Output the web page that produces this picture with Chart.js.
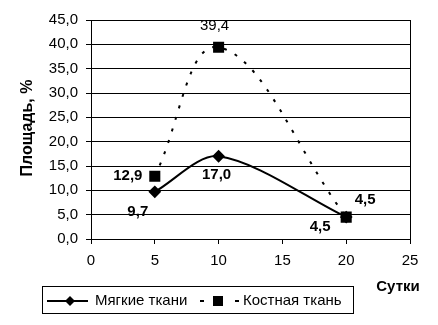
<!DOCTYPE html>
<html>
<head>
<meta charset="utf-8">
<script src="https://cdn.jsdelivr.net/npm/chart.js@4"></script>
<style>
    html, body { margin: 0; padding: 0; background: #fff; }
</style>
</head>
<body>
<canvas id="chart" width="438" height="325"></canvas>
<script>
const days = [5, 10, 20];
const softTissue = [9.7, 17.0, 4.5];
const boneTissue = [12.9, 39.4, 4.5];
const seriesNames = ['Мягкие ткани', 'Костная ткань'];
const xTicks = [0, 5, 10, 15, 20, 25];
const yTicks = [0, 5, 10, 15, 20, 25, 30, 35, 40, 45];
const yTickLabels = ['0,0', '5,0', '10,0', '15,0', '20,0', '25,0', '30,0', '35,0', '40,0', '45,0'];
const softLabels = ['9,7', '17,0', '4,5'];
const boneLabels = ['12,9', '39,4', '4,5'];
const xTitle = 'Сутки';
const yTitle = 'Площадь, %';

const FONT = '"Liberation Sans", Arial, sans-serif';

// label offsets from the point, in px
const softOffsets = [[-17, 20], [-2, 19], [-26, 10]];
const boneOffsets = [[-27, 0], [-4, -21], [19, -17]];

const extras = {
    id: 'extras',
    beforeDatasetsDraw(chart) {
        const { ctx, chartArea: a } = chart;
        ctx.save();
        ctx.strokeStyle = '#000';
        ctx.lineWidth = 1;
        ctx.beginPath();
        ctx.moveTo(Math.round(a.right) + 0.5, a.top);
        ctx.lineTo(Math.round(a.right) + 0.5, a.bottom);
        ctx.stroke();
        ctx.restore();
    },
    afterDraw(chart) {
        const { ctx } = chart;
        const xs = chart.scales.x;
        const ys = chart.scales.y;
        ctx.save();
        ctx.fillStyle = '#000';
        ctx.textAlign = 'center';
        ctx.textBaseline = 'middle';

        // point labels
        days.forEach((d, i) => {
            const px = xs.getPixelForValue(d);
            ctx.font = 'bold 15px ' + FONT;
            ctx.fillText(softLabels[i], px + softOffsets[i][0], ys.getPixelForValue(softTissue[i]) + softOffsets[i][1]);
            ctx.font = (i === 1 ? '' : 'bold ') + '15px ' + FONT;
            ctx.fillText(boneLabels[i], px + boneOffsets[i][0], ys.getPixelForValue(boneTissue[i]) + boneOffsets[i][1]);
        });

        // axis titles
        ctx.font = 'bold 15px ' + FONT;
        ctx.fillText(xTitle, 398, 287);
        ctx.save();
        ctx.translate(28, 128);
        ctx.rotate(-Math.PI / 2);
        ctx.font = 'bold 16px ' + FONT;
        ctx.fillText(yTitle, 0, 0);
        ctx.restore();

        // legend
        ctx.strokeStyle = '#000';
        ctx.lineWidth = 1;
        ctx.strokeRect(42.5, 286.5, 311, 27);
        const ly = 301;
        ctx.lineWidth = 2;
        ctx.beginPath();
        ctx.moveTo(47, ly);
        ctx.lineTo(88, ly);
        ctx.stroke();
        ctx.beginPath();
        ctx.moveTo(70, ly - 5);
        ctx.lineTo(75, ly);
        ctx.lineTo(70, ly + 5);
        ctx.lineTo(65, ly);
        ctx.closePath();
        ctx.fill();
        ctx.beginPath();
        ctx.moveTo(200, ly);
        ctx.lineTo(204, ly);
        ctx.moveTo(235, ly);
        ctx.lineTo(239, ly);
        ctx.stroke();
        ctx.fillRect(213, ly - 5, 10, 10);
        ctx.font = '15px ' + FONT;
        ctx.textAlign = 'left';
        ctx.fillText(seriesNames[0], 95, ly);
        ctx.fillText(seriesNames[1], 243, ly);
        ctx.restore();
    }
};

const ctx = document.getElementById('chart').getContext('2d');

const myChart = new Chart(ctx, { // eslint-disable-line
    type: 'line',
    data: {
        datasets: [
            {
                label: seriesNames[0],
                data: days.map((d, i) => ({ x: d, y: softTissue[i] })),
                borderColor: '#000',
                backgroundColor: '#000',
                borderWidth: 2,
                tension: 0.3,
                pointStyle: 'rectRot',
                pointRadius: 5,
                order: 1
            },
            {
                label: seriesNames[1],
                data: days.map((d, i) => ({ x: d, y: boneTissue[i] })),
                borderColor: '#000',
                backgroundColor: '#000',
                borderWidth: 2,
                borderDash: [3, 9],
                tension: 0.4,
                pointStyle: 'rect',
                pointRadius: 6.4,
                order: 0
            }
        ]
    },
    options: {
        responsive: false,
        animation: false,
        layout: { padding: { left: 0, top: 20, right: 28, bottom: 0 } },
        plugins: {
            legend: { display: false },
            tooltip: { enabled: false }
        },
        scales: {
            x: {
                type: 'linear',
                min: 0,
                max: 25,
                afterBuildTicks: s => { s.ticks = xTicks.map(v => ({ value: v })); },
                afterFit: s => { s.height = 86; },
                ticks: {
                    color: '#000',
                    font: { family: FONT, size: 15 },
                    padding: 8,
                    maxRotation: 0
                },
                grid: { drawOnChartArea: false, tickLength: 5, color: '#000' },
                border: { color: '#000', width: 1 }
            },
            y: {
                min: 0,
                max: 45,
                afterBuildTicks: s => { s.ticks = yTicks.map(v => ({ value: v })); },
                afterFit: s => { s.width = 91; },
                ticks: {
                    color: '#000',
                    font: { family: FONT, size: 15 },
                    padding: 8,
                    callback: (v, i) => yTickLabels[i]
                },
                grid: { tickLength: 5, color: '#000' },
                border: { color: '#000', width: 1 }
            }
        }
    },
    plugins: [extras]
});
</script>
</body>
</html>
